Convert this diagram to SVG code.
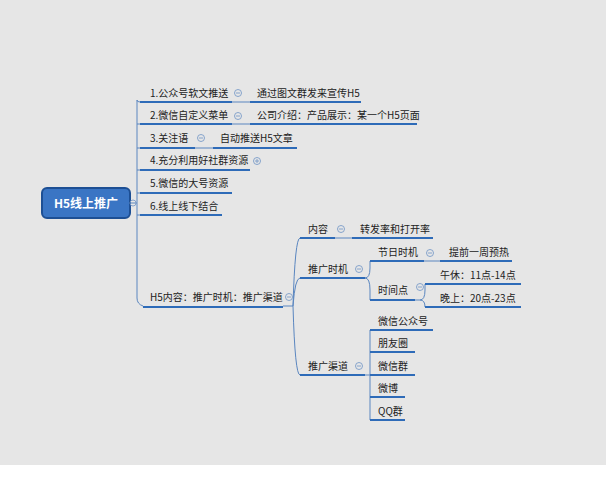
<svg xmlns="http://www.w3.org/2000/svg" width="606" height="477" viewBox="0 0 606 477">
<style>
text{font-family:"Noto Sans CJK SC","Liberation Sans",sans-serif;font-size:10px;fill:#222}
.u{stroke:#2e6bb8;stroke-width:2.2;fill:none}
.c{stroke:#5a86c0;stroke-width:1;fill:none}
.t{fill:none;stroke:#7a9cc8;stroke-width:0.9}
.tg{font-size:8px;fill:#5a7fb5}
</style>
<rect width="606" height="465" fill="#e6e6e6"/>
<rect y="465" width="606" height="12" fill="#fff"/>
<g id="connectors">
<path class="c" d="M130 203 H137 M137 100 V298 Q137 304 143 306 M137 100 Q137 102 140 102 M137 124 H140 M137 148 H140 M137 170 H140 M137 193 H140 M137 215 H140"/>
<path class="c" d="M232 102 H250 M232 124 H250 M195 148 H213"/>
<path class="c" d="M283 306 H293 M293 306 Q295 238 300 238 M293 306 Q295 278 300 278 M293 306 Q295 375 300 375"/>
<path class="c" d="M335 238 H352 M365 278 Q370 278 370 268 V261 M365 278 Q370 278 370 290 V300"/>
<path class="c" d="M424 261 H440 M415 300 H420 Q425 300 425 290 V284 M420 300 Q425 300 425 307"/>
<path class="c" d="M365 375 H370 M370 330 V420"/>
</g>
<g id="root"><rect x="42" y="188" width="88" height="30" rx="5" fill="#3a75c4" stroke="#1d4f94" stroke-width="2"/><text x="86" y="208" text-anchor="middle" style="fill:#fff;font-size:12px;font-weight:bold">H5线上推广</text><circle class="t" cx="133" cy="203" r="3"/></g>
<g id="n1"><text x="150" y="97">1.公众号软文推送</text><path class="u" d="M140 102 H232"/><circle class="t" cx="238" cy="93" r="3.5"/><path class="t" d="M236 93 H240"/></g>
<g id="n1a"><text x="257" y="97">通过图文群发来宣传H5</text><path class="u" d="M250 102 H361"/></g>
<g id="n2"><text x="150" y="119">2.微信自定义菜单</text><path class="u" d="M140 124 H232"/><circle class="t" cx="238" cy="116" r="3.5"/><path class="t" d="M236 116 H240"/></g>
<g id="n2a"><text x="257" y="119">公司介绍：产品展示：某一个H5页面</text><path class="u" d="M250 124 H417"/></g>
<g id="n3"><text x="150" y="142">3.关注语</text><path class="u" d="M140 148 H195"/><circle class="t" cx="201" cy="138" r="3.5"/><path class="t" d="M199 138 H203"/></g>
<g id="n3a"><text x="220" y="142">自动推送H5文章</text><path class="u" d="M213 148 H297"/></g>
<g id="n4"><text x="150" y="164">4.充分利用好社群资源</text><path class="u" d="M140 170 H250"/><circle class="t" cx="257" cy="161" r="3.5"/><path class="t" d="M255 161 H259 M257 159 V163"/></g>
<g id="n5"><text x="150" y="187">5.微信的大号资源</text><path class="u" d="M140 193 H232"/></g>
<g id="n6"><text x="150" y="210">6.线上线下结合</text><path class="u" d="M140 215 H222"/></g>
<g id="n7"><text x="150" y="301">H5内容：推广时机：推广渠道</text><path class="u" d="M143 307 H283"/><circle class="t" cx="289" cy="297" r="3.5"/><path class="t" d="M287 297 H291"/></g>
<g id="n7a"><text x="308" y="233">内容</text><path class="u" d="M300 238 H335"/><circle class="t" cx="341" cy="229" r="3.5"/><path class="t" d="M339 229 H343"/></g>
<g id="n7a1"><text x="360" y="233">转发率和打开率</text><path class="u" d="M352 238 H433"/></g>
<g id="n7b"><text x="308" y="273">推广时机</text><path class="u" d="M300 278 H365"/><circle class="t" cx="359" cy="269" r="3.5"/><path class="t" d="M357 269 H361"/></g>
<g id="n7b1"><text x="378" y="256">节日时机</text><path class="u" d="M370 261 H424"/><circle class="t" cx="430" cy="253" r="3.5"/><path class="t" d="M428 253 H432"/></g>
<g id="n7b1a"><text x="449" y="256">提前一周预热</text><path class="u" d="M440 261 H512"/></g>
<g id="n7b2"><text x="378" y="294">时间点</text><path class="u" d="M370 300 H415"/><circle class="t" cx="420" cy="287" r="3.5"/><path class="t" d="M418 287 H422"/></g>
<g id="n7b2a"><text x="440" y="279">午休：11点-14点</text><path class="u" d="M425 284 H521"/></g>
<g id="n7b2b"><text x="440" y="302">晚上：20点-23点</text><path class="u" d="M425 307 H521"/></g>
<g id="n7c"><text x="308" y="370">推广渠道</text><path class="u" d="M300 375 H365"/><circle class="t" cx="359" cy="366" r="3.5"/><path class="t" d="M357 366 H361"/></g>
<g id="c1"><text x="378" y="325">微信公众号</text><path class="u" d="M370 330 H433"/></g>
<g id="c2"><text x="378" y="347">朋友圈</text><path class="u" d="M370 352 H415"/></g>
<g id="c3"><text x="378" y="370">微信群</text><path class="u" d="M370 375 H415"/></g>
<g id="c4"><text x="378" y="392">微博</text><path class="u" d="M370 397 H405"/></g>
<g id="c5"><text x="378" y="415">QQ群</text><path class="u" d="M370 420 H405"/></g>
</svg>
